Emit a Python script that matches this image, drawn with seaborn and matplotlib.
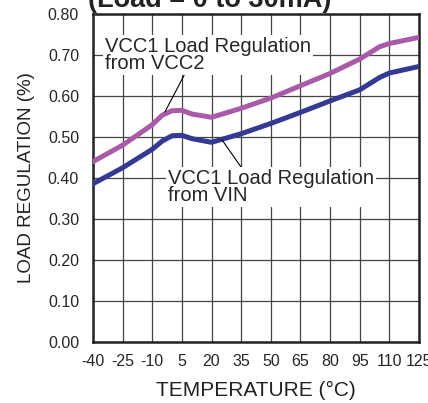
import matplotlib
matplotlib.use("Agg")
import matplotlib.pyplot as plt
import seaborn as sns
import pandas as pd

# Data
temperature = [-40, -25, -10, -5, 0, 5, 10, 20, 35, 50, 65, 80, 95, 105, 110, 125]
reg_vcc2 = [0.44, 0.48, 0.53, 0.553, 0.564, 0.565, 0.556, 0.548, 0.57, 0.595,
            0.625, 0.655, 0.69, 0.72, 0.728, 0.743]
reg_vin = [0.386, 0.425, 0.47, 0.49, 0.503, 0.504, 0.496, 0.487, 0.508, 0.533,
           0.56, 0.588, 0.615, 0.645, 0.656, 0.672]
xticks = [-40, -25, -10, 5, 20, 35, 50, 65, 80, 95, 110, 125]
yticks = [0.0, 0.1, 0.2, 0.3, 0.4, 0.5, 0.6, 0.7, 0.8]

sns.set_style("white")
plt.rcParams['font.family'] = ['Liberation Sans', 'DejaVu Sans']

df = pd.DataFrame({
    'temp': temperature * 2,
    'reg': reg_vcc2 + reg_vin,
    'series': ['vcc2'] * len(temperature) + ['vin'] * len(temperature),
})

fig = plt.figure(figsize=(4.28, 4.03), dpi=100)
ax = fig.add_axes([0.2173, 0.1514, 0.7617, 0.8139])

sns.lineplot(data=df, x='temp', y='reg', hue='series',
             palette={'vcc2': '#a95ba9', 'vin': '#343a94'},
             linewidth=3.6, legend=False, ax=ax, zorder=3)

ax.set_xlim(-40, 125)
ax.set_ylim(0, 0.8)
ax.set_xticks(xticks)
ax.set_xticklabels([str(t) for t in xticks], fontsize=11.5)
ax.set_yticks(yticks)
ax.set_yticklabels([f"{v:.2f}" for v in yticks], fontsize=11.5)
ax.tick_params(axis='x', length=0, pad=9)
ax.tick_params(axis='y', length=0, pad=10)
ax.grid(True, color='#444444', linewidth=0.9)
ax.set_axisbelow(True)
for s in ax.spines.values():
    s.set_color('#222222')
    s.set_linewidth(1.8)
    s.set_visible(True)

ax.set_xlabel('TEMPERATURE (°C)', fontsize=15, labelpad=8, color='#222222')
ax.set_ylabel('LOAD REGULATION (%)', fontsize=13.5, labelpad=9, color='#222222')

box = dict(boxstyle='square,pad=0.1', fc='white', ec='none')
ax.annotate('VCC1 Load Regulation\nfrom VCC2', xy=(-3.6, 0.561), xytext=(-34, 0.70),
            fontsize=14.5, va='center', ha='left', linespacing=0.9, bbox=box,
            arrowprops=dict(arrowstyle='-', color='black', lw=0.8,
                            shrinkA=0, shrinkB=0, relpos=(0.39, 0.0)),
            zorder=4)
ax.annotate('VCC1 Load Regulation\nfrom VIN', xy=(25.3, 0.493), xytext=(-2, 0.378),
            fontsize=14.5, va='center', ha='left', linespacing=0.9, bbox=box,
            arrowprops=dict(arrowstyle='-', color='black', lw=0.8,
                            shrinkA=0, shrinkB=0, relpos=(0.36, 1.0)),
            zorder=4)

# cropped title at the very top
fig.text(0.205, 0.9826, '(Load = 0 to 30mA)', fontsize=19.5, fontweight='bold',
         ha='left', va='baseline', color='#222222')

fig.savefig('out.png', dpi=100)
